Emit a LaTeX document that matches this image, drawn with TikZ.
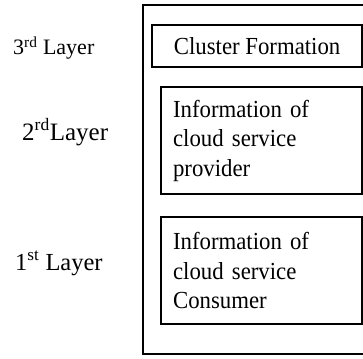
\documentclass[tikz,border=0pt]{standalone}
\usepackage{fontspec}
\setmainfont{Liberation Serif}
\newfontfamily\boxfont[FakeStretch=0.93]{Liberation Serif}
\begin{document}
\begin{tikzpicture}[x=1pt,y=-1pt,
  box/.style={draw, line width=2.2pt, anchor=north west, inner sep=0pt},
  txt/.style={font=\boxfont\fontsize{24.5}{29.5}\selectfont},
  lbl/.style={anchor=base west, inner sep=0pt}]
\useasboundingbox (0,0) rectangle (363,358);
\clip (0,0) rectangle (363,358);
\draw[line width=2.4pt] (143,5) rectangle (380,354);
\node[box, txt, minimum width=210pt, minimum height=42pt, align=center] (c3) at (151,24) {Cluster Formation};
\node[box, txt, minimum width=201pt, minimum height=107pt, text width=177pt, align=left, inner xsep=12pt] (c2) at (160,86) {Information of\\cloud service\\provider};
\node[box, txt, minimum width=201pt, minimum height=107pt, text width=177pt, align=left, inner xsep=12pt] (c1) at (160,216) {Information of\\cloud service\\Consumer};
\node[lbl, font=\fontsize{22}{26}\selectfont] (l3) at (13,55) {3\textsuperscript{rd} Layer};
\node[lbl, font=\fontsize{25}{29}\selectfont] (l2) at (22,140) {2\textsuperscript{rd}Layer};
\node[lbl, font=\fontsize{24.5}{29}\selectfont] (l1) at (15,270) {1\textsuperscript{st} Layer};
\end{tikzpicture}
\end{document}
